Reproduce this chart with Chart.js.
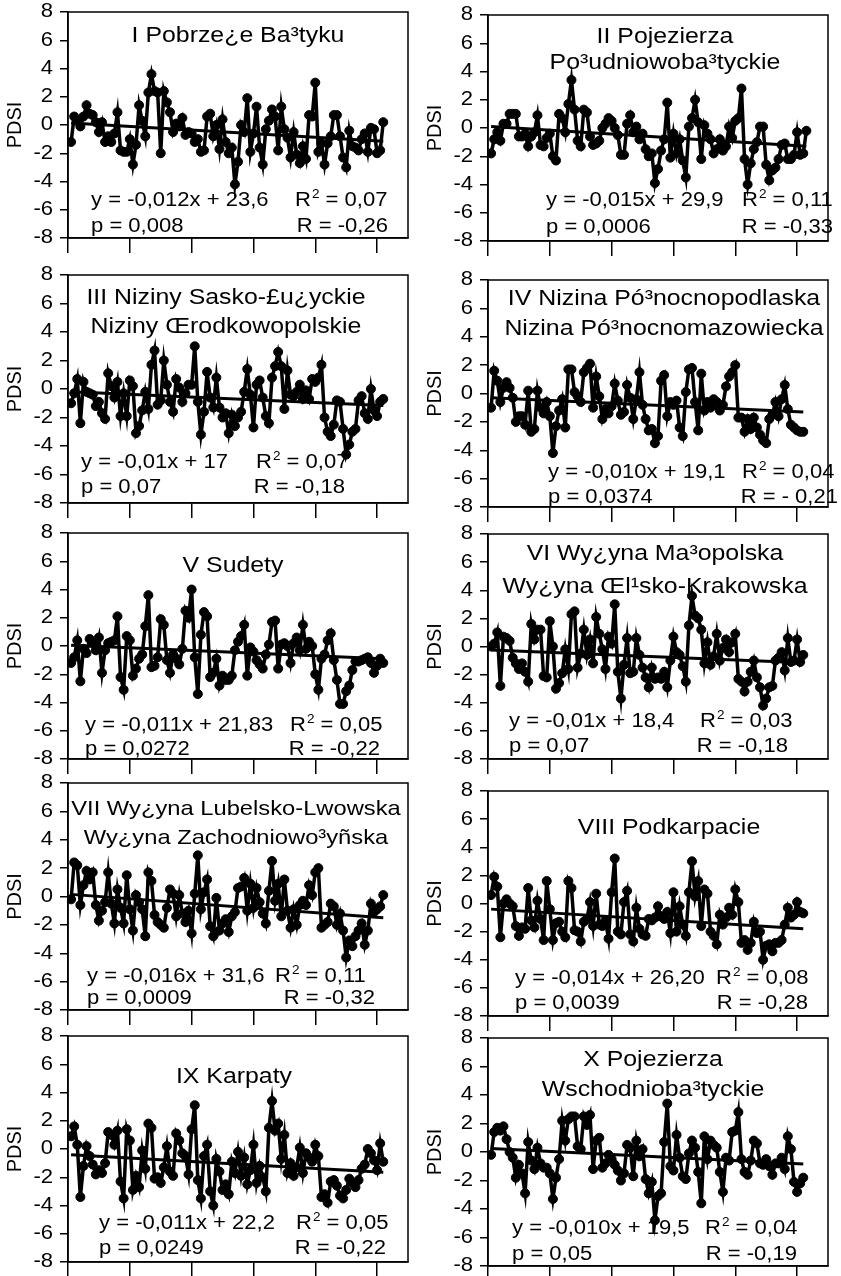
<!DOCTYPE html>
<html>
<head>
<meta charset="utf-8">
<script src="https://cdn.jsdelivr.net/npm/chart.js@4.4.1/dist/chart.umd.min.js"></script>
<style>
  body { margin: 0; background: #fff; }
  #wrap { position: relative; width: 841px; height: 1276px; }
  canvas { position: absolute; }
</style>
</head>
<body>
<div id="wrap"></div>
<script>
const startYear = 1901;
const xTicks = [1900, 1920, 1940, 1960, 1980, 2000];
const yTicks = [-8, -6, -4, -2, 0, 2, 4, 6, 8];

const pdsi1 = [-1.2, 0.6, 0.3, -0.1, 0.6, 1.4, 0.8, 0.7, 0.2, -0.5, 0.2, -1.2, -0.8, -1.2, -0.6, 0.9, -1.8, -1.9, -1.9, -1.0,
  -2.8, -1.4, 1.4, 0.3, -0.8, 2.3, 3.6, 2.4, 2.3, -2.0, 2.4, 1.6, 0.9, -0.5, 0.1, -0.1, 0.5, -0.7, -0.5, -0.6,
  -1.2, -1.0, -1.9, -1.8, 0.6, 0.8, -0.8, 0.0, -1.7, 0.4, -1.2, -2.0, -1.6, -4.2, -2.6, 0.0, -0.5, 1.9, -1.9, -0.6,
  1.3, -1.6, -2.8, -0.3, 0.3, 1.1, 0.6, -1.8, 1.3, -0.3, -0.9, -2.3, -0.5, -2.1, -2.7, -1.5, -2.4, 0.7, 0.6, 3.0,
  -1.9, -1.3, -2.8, -1.3, -0.8, 0.7, 0.7, -0.8, -2.3, -3.0, -0.4, -1.5, -1.6, -1.8, -1.0, -0.6, -1.9, -0.2, -0.3, -2.0,
  -1.8, 0.2];
const pdsi2 = [-1.8, -0.8, -0.3, -0.9, 0.3, 0.3, 1.0, 1.0, 1.0, -0.6, -0.6, -0.4, -1.3, -0.6, -0.3, 0.9, -1.2, -1.3, -0.7, -0.4,
  -2.0, -2.3, 1.0, 0.7, -0.3, 1.7, 3.4, 1.3, -0.9, -1.3, 1.3, 1.1, -0.6, -1.2, -1.1, -0.9, 0.0, 0.3, 0.7, 0.5,
  0.0, -0.5, -1.9, -1.9, 0.3, 0.9, -0.3, 0.1, -0.8, -0.4, -1.5, -2.0, -1.8, -3.9, -2.9, -1.6, -0.8, 1.8, -2.1, -0.4,
  -1.8, -0.8, -2.3, -3.5, 0.1, 0.7, 2.0, 0.4, -2.2, 0.2, -0.4, -0.8, -1.8, -1.5, -0.8, -1.6, -1.3, 0.1, -0.7, 0.5,
  0.7, 2.8, -2.2, -4.0, -2.5, -1.5, -1.0, 0.1, 0.1, -2.6, -3.7, -3.0, -2.8, -2.2, -1.2, -1.1, -2.2, -2.2, -1.9, -0.3,
  -1.9, -1.8, -0.2];
const pdsi3 = [-1.0, -0.3, 0.7, -2.4, 0.5, -0.2, -0.3, -0.4, -1.2, -0.9, -1.7, -2.1, 1.1, 0.2, -0.6, 0.5, -1.9, -0.3, -1.9, 0.6,
  0.2, -3.1, -2.6, -1.5, -0.2, -1.4, 1.7, 2.7, -1.1, -0.8, 2.0, 0.3, -0.9, -1.6, 0.7, 0.1, -0.9, -0.3, 0.3, 0.3,
  3.0, -0.9, -3.2, -1.6, 1.2, -0.6, -1.3, 0.8, -1.3, -2.0, -1.7, -3.1, -1.8, -2.6, -2.0, -1.6, -0.2, 1.4, -0.4, -2.7,
  0.3, 0.6, -0.6, -1.9, -2.4, 0.8, 1.6, 2.6, 1.6, -1.4, 1.3, -0.4, -0.5, -0.2, 0.3, -0.7, -0.1, -0.7, 0.7, 0.5,
  0.8, 1.7, -2.0, -3.0, -3.3, -2.5, -0.8, -0.9, -2.8, -4.6, -3.9, -3.0, -2.8, -0.8, -0.5, -1.7, -2.1, 0.0, -1.5, -1.9,
  -0.9, -0.7];
const pdsi4 = [-1.0, 1.6, 0.9, -0.6, 0.4, 0.8, 0.4, -0.3, -2.0, -1.6, -1.6, -2.2, 0.2, -2.7, -2.5, 0.2, -1.0, -1.4, -0.6, -1.6,
  -4.2, -2.3, -1.2, -0.4, -2.4, 1.7, 1.7, 0.1, -0.2, -0.6, 1.5, 1.8, 2.1, -1.0, 1.2, -0.2, -1.8, -1.1, -1.4, -0.9,
  0.7, -0.5, -1.5, -1.3, 0.6, -0.3, -1.8, -0.4, 1.5, -0.8, -1.8, -2.6, -2.5, -3.5, -3.0, 0.9, 1.3, -1.6, -0.6, -0.8,
  -0.5, -2.4, -3.0, 0.1, 1.7, 1.8, -0.6, -2.6, 1.4, -1.2, -0.6, -1.0, -0.4, -0.6, -1.2, -0.8, 0.5, 1.2, 1.5, 2.0,
  -1.7, -1.7, -2.7, -1.8, -2.5, -1.7, -2.4, -2.9, -3.3, -3.5, -1.8, -1.5, -0.6, -1.6, -0.4, 0.6, -1.1, -2.2, -2.4, -2.6,
  -2.7, -2.7];
const pdsi5 = [-1.2, -0.8, 0.4, -2.5, -0.2, -0.5, 0.5, 0.2, -0.3, 0.6, -1.9, -0.3, 0.2, 0.3, 0.4, 2.1, -2.2, -3.1, 0.7, 0.4,
  -2.1, -1.6, -0.9, -0.6, 1.4, 3.6, -1.5, -1.4, -0.8, 1.9, 1.5, -1.0, -1.9, -0.6, -0.9, -1.3, -0.2, 2.5, 2.0, 4.0,
  -0.8, -3.4, 0.8, 2.4, 2.1, -2.2, -1.9, -0.9, -2.8, -2.1, -2.4, -2.4, -2.1, -0.3, 0.3, 0.7, 1.5, -2.1, -0.1, -0.4,
  -1.0, -1.3, -1.6, -0.6, 0.1, 1.7, 1.8, -1.6, 0.1, 0.2, 0.0, -1.2, 0.2, 0.6, -0.3, 1.5, -0.2, 0.3, 0.0, -2.0,
  -3.1, -0.9, -0.6, 0.4, 0.9, -1.0, -2.4, -4.1, -4.1, -3.2, -2.8, -1.7, -1.1, -1.1, -1.0, -0.9, -0.8, -1.2, -1.9, -1.4,
  -0.9, -1.2];
const pdsi6 = [0.0, 0.2, 1.0, -2.8, 0.7, 0.6, 0.4, -0.8, -1.2, -1.6, -1.2, -1.8, -2.5, 1.6, 0.5, 1.2, 1.2, -2.1, -2.2, 1.8,
  0.0, -3.0, -2.6, -1.9, -0.2, -1.6, 2.3, 2.5, -1.5, -0.5, 1.2, -0.6, 0.5, -1.2, 2.1, 0.9, -0.2, -1.6, 0.7, 0.2,
  3.0, -1.8, -3.7, -1.3, 0.6, -1.9, -1.8, 0.6, -0.6, -1.5, -2.2, -2.9, -1.5, -2.3, -2.2, -2.3, -1.8, -2.9, -1.0, 0.7,
  -0.4, -0.6, -1.4, -2.5, 1.5, 3.6, 2.2, 2.0, 1.2, -1.2, 0.3, -1.3, -0.7, 0.9, -1.0, -0.1, 0.5, -0.4, 0.3, 0.9,
  -2.3, -2.5, -3.2, -2.5, -1.8, -1.0, -2.2, -2.9, -4.2, -3.7, -2.9, -2.8, -1.0, -0.8, -0.4, -1.7, 0.6, -1.1, -1.0, 0.5,
  -1.1, -0.6];
const pdsi7 = [-0.2, 2.4, 2.2, -0.6, 0.8, 1.8, 1.2, 1.7, -0.6, -1.7, -1.0, -0.4, 1.7, -0.5, -1.9, 0.5, -0.8, -1.9, 1.5, -0.9,
  -2.4, 0.1, -0.4, -0.9, -2.8, 1.7, 1.1, -1.3, -1.8, -2.0, -2.2, -0.8, 0.5, 0.2, -1.4, 0.1, -1.2, -1.8, -1.0, -2.6,
  0.2, 2.9, -0.9, 0.3, 1.2, -2.1, -2.8, -0.1, -2.4, -1.9, -1.6, -2.5, -1.4, -1.1, 0.6, 0.7, 1.3, -1.0, 0.9, -0.8,
  0.6, -0.4, -1.2, -1.9, 0.4, 2.5, -0.3, 0.9, -1.4, 1.2, -1.0, -2.2, -0.9, -2.0, -0.6, -0.3, -0.6, 0.8, 0.1, 1.7,
  2.0, -2.2, -2.0, -1.8, -0.5, -0.7, -2.0, -1.2, -2.4, -4.3, -3.1, -3.5, -2.8, -2.4, -1.9, -3.4, -2.4, -0.5, -1.1, -0.9,
  -0.7, 0.1];
const pdsi8 = [0.6, 1.9, 1.2, -2.4, 0.0, 0.3, 0.0, -0.2, -1.6, -2.3, -1.7, -1.8, 1.1, -1.2, -1.7, 0.2, -1.1, -2.6, 1.6, -0.4,
  -2.6, -1.4, -1.3, -2.0, -2.4, 1.6, 1.1, -1.9, -2.0, -2.7, -1.3, -1.1, 0.1, -1.6, 0.7, -1.5, -1.6, -1.2, -2.5, 0.8,
  3.2, -2.0, -2.2, 0.1, 0.9, -2.2, -2.7, -0.3, -1.8, -2.2, -2.3, -1.1, -1.2, -1.0, -0.2, -0.9, -1.1, -0.6, -2.1, 0.8,
  -2.0, -0.2, -1.5, -2.3, 0.8, 3.0, 0.5, 1.6, -1.6, 1.0, 0.7, -2.0, -2.3, -2.9, -0.8, -1.5, -1.0, -0.3, -0.8, 1.0,
  0.1, -2.8, -2.6, -3.3, -2.8, -1.3, -2.1, -2.0, -4.0, -3.0, -2.9, -3.4, -2.8, -2.8, -2.6, -1.5, -0.3, -1.0, -0.8, 0.1,
  -0.6, -0.7];
const pdsi9 = [0.9, 1.6, 0.3, -3.4, -1.2, 0.2, -0.5, -1.1, -1.8, -1.5, -1.7, -1.0, 1.2, 1.0, 0.3, 1.3, -2.3, -3.5, 1.4, 0.6,
  -2.9, -1.9, -2.7, -0.1, -1.4, 1.8, 1.5, -2.1, -2.0, -2.4, -1.3, 0.2, -1.6, -1.9, 1.1, 0.6, -0.3, -0.5, -1.8, 1.4,
  3.1, -2.2, -3.5, -0.5, 0.3, -3.0, -4.0, -0.7, -1.6, -2.9, -2.5, -3.2, -0.9, -1.7, -0.2, -1.9, -0.6, -2.5, -1.5, 0.3,
  -2.4, -1.2, -2.0, -3.0, 1.5, 3.4, 1.3, 1.8, -0.7, 1.0, -1.7, -1.0, -1.9, -1.3, 0.1, -1.7, -0.3, -0.6, -0.9, 0.3,
  -0.5, -3.4, -3.2, -3.8, -2.3, -2.2, -2.6, -3.3, -3.5, -2.9, -2.1, -2.4, -2.7, -2.2, -1.4, -1.1, 0.0, -0.3, -0.8, -1.5,
  0.4, -0.9];
const pdsi10 = [-0.2, 1.4, 1.7, 1.5, 1.8, 0.9, 0.0, -0.4, -1.8, -0.9, -1.5, -2.9, 0.7, -0.6, -1.2, 0.3, -0.8, -1.1, -1.1, -1.5,
  -3.3, -1.8, -0.5, 2.2, 0.8, 2.3, 2.5, 2.5, 0.4, 0.2, 2.5, 1.9, 2.6, -1.2, 0.8, 1.0, -1.1, -0.8, -0.2, -0.5,
  -0.9, -1.3, -2.0, -1.5, 0.5, 0.3, -1.7, 0.8, -0.3, 0.2, -1.9, -2.9, -2.1, -4.8, -3.1, -2.9, 0.7, 3.4, -1.0, -1.3,
  1.2, -0.4, -1.7, -1.9, -0.1, 0.8, 0.3, -1.4, -3.6, 1.1, -0.5, 0.8, 0.5, 0.3, -1.4, -2.8, -0.4, -0.6, 1.4, 1.5,
  2.8, -0.5, -1.4, -1.6, -0.6, 0.8, 0.6, -0.8, -0.9, -0.5, -1.0, -1.6, -0.8, -0.8, -0.4, -1.2, 1.1, 0.2, -2.1, -2.8,
  -2.2, -1.8];

// trend line values at the first and last year
const trend1 = [0.15, -1.15];
const trend2 = [0.1, -1.3];
const trend3 = [-0.2, -1.15];
const trend4 = [-0.3, -1.3];
const trend5 = [0.05, -0.9];
const trend6 = [-0.25, -1.15];
const trend7 = [0.15, -1.5];
const trend8 = [-0.4, -1.8];
const trend9 = [-0.4, -1.65];
const trend10 = [0.25, -0.85];

const titles = [
  ["I Pobrze¿e Ba³tyku"],
  ["II Pojezierza", "Po³udniowoba³tyckie"],
  ["III Niziny Sasko-£u¿yckie", "Niziny Œrodkowopolskie"],
  ["IV Nizina Pó³nocnopodlaska", "Nizina Pó³nocnomazowiecka"],
  ["V Sudety"],
  ["VI Wy¿yna Ma³opolska", "Wy¿yna Œl¹sko-Krakowska"],
  ["VII Wy¿yna Lubelsko-Lwowska", "Wy¿yna Zachodniowo³yñska"],
  ["VIII Podkarpacie"],
  ["IX Karpaty"],
  ["X Pojezierza", "Wschodnioba³tyckie"]
];
const equations = [
  "y = -0,012x + 23,6", "y = -0,015x + 29,9", "y = -0,01x + 17", "y = -0,010x + 19,1", "y = -0,011x + 21,83",
  "y = -0,01x + 18,4", "y = -0,016x + 31,6", "y = -0,014x + 26,20", "y = -0,011x + 22,2", "y = -0,010x + 19,5"
];
const r2Values = ["0,07", "0,11", "0,07", "0,04", "0,05", "0,03", "0,11", "0,08", "0,05", "0,04"];
const pValues = ["0,008", "0,0006", "0,07", "0,0374", "0,0272", "0,07", "0,0009", "0,0039", "0,0249", "0,05"];
const rValues = ["-0,26", "-0,33", "-0,18", "- 0,21", "-0,22", "-0,18", "-0,32", "-0,28", "-0,22", "-0,19"];

const series = [pdsi1, pdsi2, pdsi3, pdsi4, pdsi5, pdsi6, pdsi7, pdsi8, pdsi9, pdsi10];
const trends = [trend1, trend2, trend3, trend4, trend5, trend6, trend7, trend8, trend9, trend10];

// plot area of each panel on the page: left, top, bottom
const boxes = [
  [68, 12, 238], [488, 15, 241],
  [68, 275, 503], [488, 280, 507],
  [68, 533, 759], [488, 534, 759],
  [68, 783, 1010], [488, 791, 1016],
  [68, 1036, 1262], [488, 1038, 1266]
];
// text placement inside the plot area: title centre x, title line y's, title size, eq x, eq y, R2 x, p y, R right
const textPos = [
  { tx: 170, ty: [24], ts: 22, ex: 23, ey: 189, rx: 227, py: 215, rr: 320 },
  { tx: 177, ty: [22, 48], ts: 22, ex: 58, ey: 186, rx: 254, py: 213, rr: 345 },
  { tx: 158, ty: [23, 52], ts: 22, ex: 13, ey: 188, rx: 188, py: 213, rr: 277 },
  { tx: 176, ty: [19, 49], ts: 22, ex: 60, ey: 193, rx: 254, py: 218, rr: 350 },
  { tx: 165, ty: [33], ts: 22, ex: 17, ey: 193, rx: 222, py: 217, rr: 312 },
  { tx: 167, ty: [20, 53], ts: 22, ex: 21, ey: 188, rx: 212, py: 213, rr: 300 },
  { tx: 168, ty: [26, 55], ts: 21, ex: 19, ey: 194, rx: 207, py: 216, rr: 307 },
  { tx: 181, ty: [37], ts: 22, ex: 27, ey: 188, rx: 228, py: 213, rr: 320 },
  { tx: 166, ty: [41], ts: 22, ex: 31, ey: 188, rx: 228, py: 213, rr: 318 },
  { tx: 165, ty: [22, 52], ts: 22, ex: 24, ey: 191, rx: 217, py: 217, rr: 309 }
];

const FONT = '"Liberation Sans", Arial, sans-serif';
const STRETCH = 1.13;   // the source figure's lettering is a bit wide
const PAD_TOP = 12;
const X_AXIS_H = 16;

// draws wide text; returns its drawn width
function wideText(ctx, text, x, y, size, align) {
  ctx.font = size + 'px ' + FONT;
  const w = ctx.measureText(text).width * STRETCH;
  let x0 = x;
  if (align === 'center') x0 = x - w / 2;
  if (align === 'right') x0 = x - w;
  ctx.save();
  ctx.translate(x0, y);
  ctx.scale(STRETCH, 1);
  ctx.textAlign = 'left';
  ctx.fillText(text, 0, 0);
  ctx.restore();
  return w;
}

const panelText = {
  id: 'panelText',
  beforeDatasetsDraw(chart, args, opts) {
    const { ctx, chartArea: a } = chart;
    const k = opts.index;
    const tp = textPos[k];
    ctx.save();
    ctx.fillStyle = '#000';
    ctx.textBaseline = 'middle';
    titles[k].forEach((t, j) => wideText(ctx, t, a.left + tp.tx, a.top + tp.ty[j], tp.ts, 'center'));

    const eqY = a.top + tp.ey;
    wideText(ctx, equations[k], a.left + tp.ex, eqY, 19.5, 'left');
    wideText(ctx, 'p = ' + pValues[k], a.left + tp.ex, a.top + tp.py, 19.5, 'left');
    let x = a.left + tp.rx;
    x += wideText(ctx, 'R', x, eqY, 19.5, 'left');
    x += wideText(ctx, '2', x + 1, eqY - 6, 12, 'left') + 1;
    wideText(ctx, ' = ' + r2Values[k], x, eqY, 19.5, 'left');
    wideText(ctx, 'R = ' + rValues[k], a.left + tp.rr, a.top + tp.py, 19.5, 'right');

    // y tick labels
    const ys = chart.scales.y;
    yTicks.forEach(v => wideText(ctx, String(v), a.left - 15, ys.getPixelForValue(v), 19.5, 'right'));

    // axis title
    ctx.translate(a.left - 53, ys.getPixelForValue(0));
    ctx.rotate(-Math.PI / 2);
    ctx.textAlign = 'center';
    ctx.font = '20px ' + FONT;
    ctx.fillText('PDSI', 0, 0);
    ctx.restore();
  },
  afterDraw(chart) {
    const { ctx, chartArea: a } = chart;
    ctx.save();
    ctx.strokeStyle = '#000';
    ctx.lineWidth = 1.5;
    ctx.strokeRect(a.left, a.top, a.right - a.left, a.bottom - a.top);
    ctx.restore();
  }
};

const wrap = document.getElementById('wrap');

series.forEach((values, k) => {
  const [left, top, bottom] = boxes[k];
  const col = k % 2;
  const canvas = document.createElement('canvas');
  canvas.width = 421;
  canvas.height = PAD_TOP + (bottom - top) + X_AXIS_H;
  canvas.style.left = (col * 420) + 'px';
  canvas.style.top = (top - PAD_TOP) + 'px';
  wrap.appendChild(canvas);

  const pts = values.map((v, i) => ({ x: startYear + i, y: v }));
  const tr = trends[k];
  const trendPts = [{ x: startYear, y: tr[0] }, { x: startYear + values.length - 1, y: tr[1] }];
  const yAxisW = left - col * 420;

  new Chart(canvas, {
    type: 'line',
    data: {
      datasets: [
        {
          data: trendPts,
          borderColor: '#000',
          borderWidth: 3,
          pointRadius: 0,
          tension: 0
        },
        {
          data: pts,
          borderColor: '#000',
          backgroundColor: '#000',
          borderWidth: 3.5,
          borderJoinStyle: 'miter',
          pointRadius: 4.5,
          pointBorderWidth: 1,
          pointBackgroundColor: '#000',
          pointBorderColor: '#000',
          tension: 0
        }
      ]
    },
    options: {
      responsive: false,
      animation: false,
      devicePixelRatio: 1,
      layout: { padding: { top: PAD_TOP, right: 13, left: 0, bottom: 0 } },
      plugins: {
        legend: { display: false },
        tooltip: { enabled: false },
        panelText: { index: k }
      },
      scales: {
        x: {
          type: 'linear',
          min: 1900,
          max: 2010,
          afterBuildTicks: s => { s.ticks = xTicks.map(v => ({ value: v })); },
          afterFit: s => { s.height = X_AXIS_H; },
          ticks: { callback: () => '', padding: 0, font: { size: 1 } },
          grid: { drawOnChartArea: false, drawTicks: true, tickLength: 15, color: '#000', lineWidth: 1.5 },
          border: { display: true, color: '#000', width: 1.5 }
        },
        y: {
          min: -8,
          max: 8,
          afterBuildTicks: s => { s.ticks = yTicks.map(v => ({ value: v })); },
          afterFit: s => { s.width = yAxisW; },
          ticks: { callback: () => '', padding: 0, font: { size: 1 } },
          grid: { drawOnChartArea: false, drawTicks: true, tickLength: 8, color: '#000', lineWidth: 1.5 },
          border: { display: true, color: '#000', width: 1.5 }
        }
      }
    },
    plugins: [panelText]
  });
});
</script>
</body>
</html>
